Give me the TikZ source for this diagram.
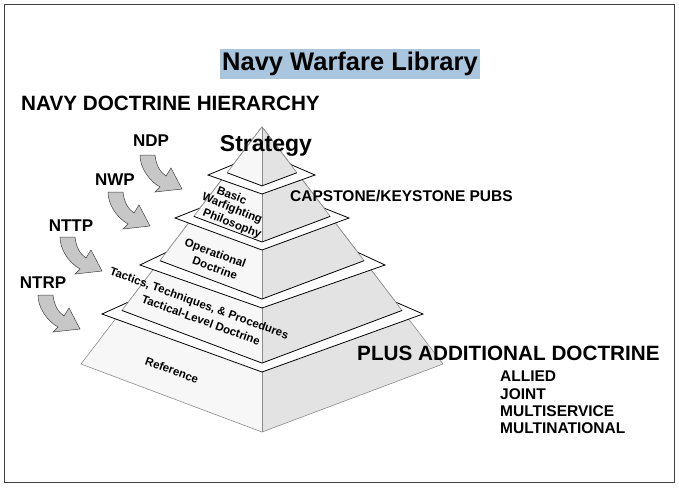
\documentclass[tikz,border=0pt]{standalone}
\usepackage{fontspec}
\setmainfont{Liberation Sans}[BoldFont={Liberation Sans Bold}]
\usetikzlibrary{calc}
\begin{document}
\begin{tikzpicture}[x=1pt,y=-1pt,
  lface/.style={fill=white!97!black},
  rface/.style={fill=black!11},
  edge/.style={draw=black!45,line width=0.6pt},
  collar/.style={draw=black,line width=0.8pt,fill=white,line join=miter},
  innerv/.style={draw=black,line width=0.8pt},
  blockarrow/.style={fill=black!22,draw=black!75,line width=0.5pt},
  lbl/.style={font=\bfseries,inner sep=0pt},
  face/.style={font=\bfseries\fontsize{11.5}{13}\selectfont,inner sep=0pt,align=center}]
\useasboundingbox (0,0) rectangle (679,488);
\draw[line width=1pt,black!75] (4,4) rectangle (674,482);
% title
\definecolor{hl}{HTML}{A9C6DE}
\node[lbl,fill=hl,inner xsep=2pt,inner ysep=3pt,font=\bfseries\fontsize{25.5}{28}\selectfont] (title) at (350,64) {Navy Warfare Library};
\node[lbl,anchor=west,font=\bfseries\fontsize{20.7}{24}\selectfont] (hier) at (21,103) {NAVY DOCTRINE HIERARCHY};
% pyramid geometry
\coordinate (A) at (262,127);
\coordinate (L) at (81,364);
\coordinate (F) at (262,432);
\coordinate (R) at (443,364);
\newcommand{\pyrpart}[1]{%
  \fill[lface] (A) -- ($(A)!#1!(L)$) -- ($(A)!#1!(F)$) -- cycle;
  \fill[rface] (A) -- ($(A)!#1!(F)$) -- ($(A)!#1!(R)$) -- cycle;
  \draw[edge] ($(A)!#1!(L)$) -- (A) -- ($(A)!#1!(R)$);
  \draw[edge] (A) -- ($(A)!#1!(F)$);}
\newcommand{\collarat}[5]{% t, tipL x, tip y, tipR x, outer front y
  \draw[collar] ($(A)!#1-0.035!(L)$) -- (#2,#3) -- (262,#5) -- (#4,#3) -- ($(A)!#1-0.035!(R)$);}
\newcommand{\innerat}[1]{\draw[innerv] ($(A)!#1!(L)$) -- ($(A)!#1!(F)$) -- ($(A)!#1!(R)$);}
% full pyramid
\pyrpart{1}
\draw[edge] (L) -- (F) -- (R);
\collarat{0.774}{102}{314}{423}{372}
\pyrpart{0.774}\innerat{0.774}
\collarat{0.564}{140}{265}{385}{308}
\pyrpart{0.564}\innerat{0.564}
\collarat{0.377}{175}{218}{349}{250}
\pyrpart{0.377}\innerat{0.377}
\collarat{0.193}{208}{175}{315}{194}
\pyrpart{0.193}\innerat{0.193}
% face texts
\node[lbl,font=\bfseries\fontsize{23}{25}\selectfont] (strat) at (266,146) {Strategy};
\node[face,rotate=-22] (basic) at (232,195) {Basic};
\node[face,rotate=-22] (warf) at (232,209) {Warfighting};
\node[face,rotate=-22] (phil) at (232,224) {Philosophy};
\node[face,rotate=-20] (oper) at (215,254) {Operational};
\node[face,rotate=-20] (doct) at (215,268) {Doctrine};
\node[face,rotate=-20] (ttp) at (199,304) {Tactics, Techniques, \& Procedures};
\node[face,rotate=-20] (tld) at (201,320) {Tactical-Level Doctrine};
\node[face,rotate=-20] (ref) at (172,370) {Reference};
% right texts
\node[lbl,anchor=west,font=\bfseries\fontsize{15.5}{17}\selectfont] (cap) at (290,196) {CAPSTONE/KEYSTONE PUBS};
\node[lbl,anchor=west,font=\bfseries\fontsize{20.7}{24}\selectfont] (plus) at (357,353) {PLUS ADDITIONAL DOCTRINE};
\node[lbl,anchor=north west,align=left,font=\bfseries\fontsize{15.5}{17.3}\selectfont] (list) at (500,371) {ALLIED\\JOINT\\MULTISERVICE\\MULTINATIONAL};
% arrows
\newcommand{\barrow}[2]{%
  \draw[blockarrow,shift={(#1,#2)}] (0,0) -- (15,0) .. controls (16,10) and (20,17) .. (26,21) -- (31,13) -- (42,34) -- (15,37) -- (20,32) .. controls (8,25) and (0,12) .. (0,0) -- cycle;}
\barrow{140}{155}
\barrow{108}{192}
\barrow{60}{237}
\barrow{38}{295}
\node[lbl,font=\bfseries\fontsize{17}{19}\selectfont] (ndp) at (151,141) {NDP};
\node[lbl,font=\bfseries\fontsize{17}{19}\selectfont] (nwp) at (115,180) {NWP};
\node[lbl,font=\bfseries\fontsize{17}{19}\selectfont] (nttp) at (71,226) {NTTP};
\node[lbl,font=\bfseries\fontsize{17}{19}\selectfont] (ntrp) at (43,283) {NTRP};
\end{tikzpicture}
\end{document}
